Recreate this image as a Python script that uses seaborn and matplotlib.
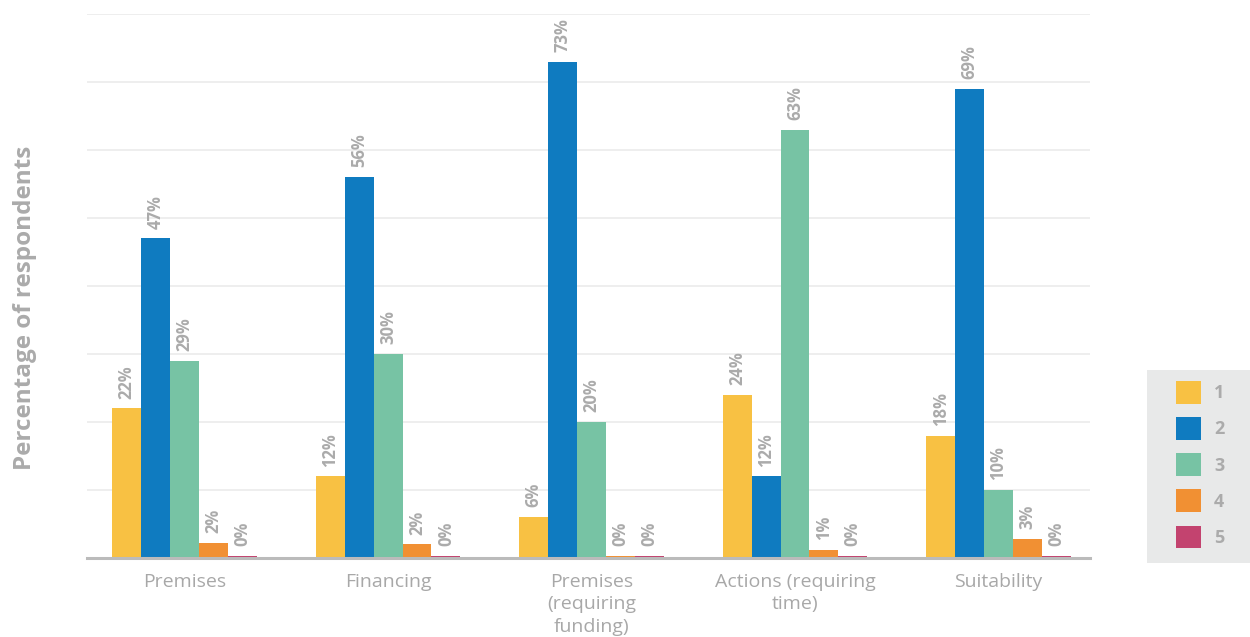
import matplotlib
matplotlib.use("Agg")
import matplotlib.pyplot as plt
from matplotlib.patches import Patch, Rectangle
import seaborn as sns
import pandas as pd

categories = ["Premises", "Financing", "Premises\n(requiring\nfunding)",
              "Actions (requiring\ntime)", "Suitability"]
ratings = ["1", "2", "3", "4", "5"]
rating_1 = [22, 12, 6, 24, 18]
rating_2 = [47, 56, 73, 12, 69]
rating_3 = [29, 30, 20, 63, 10]
rating_4 = [2.2, 2.0, 0.3, 1.2, 2.8]
rating_5 = [0.3, 0.3, 0.3, 0.3, 0.3]
colors = ["#F8C143", "#0F7BC0", "#77C3A4", "#F19033", "#C3436F"]

series = [rating_1, rating_2, rating_3, rating_4, rating_5]
rows = []
for r, vals in zip(ratings, series):
    for c, v in zip(categories, vals):
        rows.append({"category": c, "rating": r, "value": v})
df = pd.DataFrame(rows)

sns.set_theme(style="white")
plt.rcParams["font.family"] = ["Open Sans", "DejaVu Sans"]

grey = "#ABABAB"
fig = plt.figure(figsize=(12.5, 6.37), dpi=100)
ax = fig.add_axes([87 / 1250, 79 / 637, 1003 / 1250, 544 / 637])

sns.barplot(data=df, x="category", y="value", hue="rating", order=categories,
            hue_order=ratings, palette=colors, width=0.71, saturation=1,
            edgecolor="none", linewidth=0, ax=ax, legend=False)

for container in ax.containers:
    labels = [f"{round(b.get_height()):.0f}%" for b in container]
    ax.bar_label(container, labels=labels, rotation=90, padding=7,
                 fontsize=12, fontweight="bold", color=grey)

ax.set_ylim(0, 80)
ax.set_xlim(-0.48, 4.45)
ax.set_yticks(range(0, 81, 10))
ax.set_yticklabels([])
ax.tick_params(axis="y", length=0)
ax.tick_params(axis="x", length=0, pad=11, labelsize=14, labelcolor="#A8A8A8")
for t in ax.get_xticklabels():
    t.set_linespacing(1.3)
ax.yaxis.grid(True, color="#EBEBEB", linewidth=1.2)
ax.set_axisbelow(True)
for side in ["top", "right", "left"]:
    ax.spines[side].set_visible(False)
ax.spines["bottom"].set_color("#BBBBBB")
ax.spines["bottom"].set_linewidth(2.2)
ax.set_xlabel("")
ax.set_ylabel("Percentage of respondents", fontsize=17.5, fontweight="bold",
              color=grey)
ax.yaxis.set_label_coords(-0.050, 0.46)

# grey panel behind the legend
fig.patches.append(Rectangle((1147 / 1250, 74 / 637), 103 / 1250, 193 / 637,
                             transform=fig.transFigure, facecolor="#E8E9E9",
                             edgecolor="none", zorder=0))

handles = [Patch(facecolor=c, edgecolor="none", label=r)
           for r, c in zip(ratings, colors)]
leg = fig.legend(handles=handles, loc="upper left",
                 bbox_to_anchor=(1176 / 1250, (637 - 381) / 637),
                 frameon=False, fontsize=13,
                 handlelength=1.4, handleheight=1.55, labelspacing=0.75,
                 borderpad=0, handletextpad=0.7, borderaxespad=0)
for t in leg.get_texts():
    t.set_color(grey)
    t.set_fontweight("bold")

fig.savefig("out.png", dpi=100)
